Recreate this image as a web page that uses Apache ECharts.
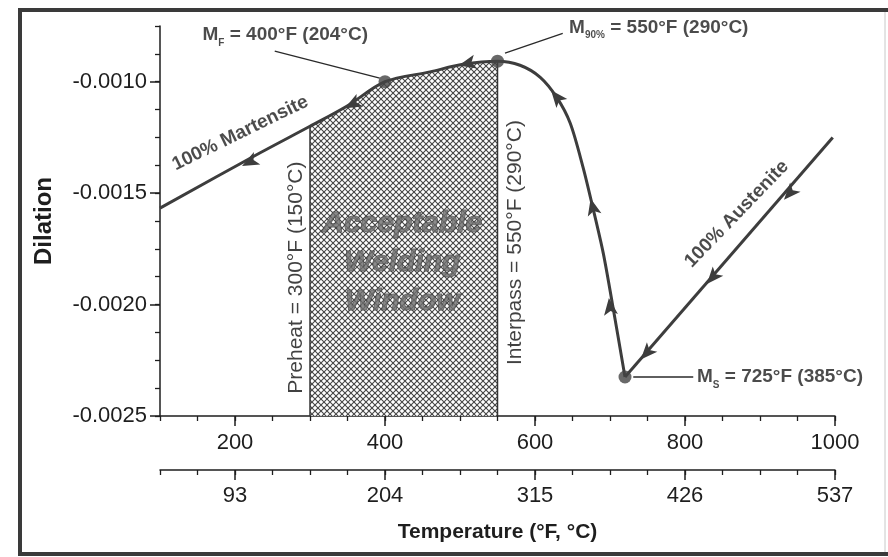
<!DOCTYPE html>
<html><head><meta charset="utf-8">
<script src="https://cdn.jsdelivr.net/npm/echarts@6/dist/echarts.min.js"></script>
<style>html,body{margin:0;padding:0;background:#fff}#c{width:888px;height:557px}</style>
</head><body><div id="c"></div>
<script>
// ---- data ----
const fahrenheitTicks = [200, 400, 600, 800, 1000];
const celsiusLabels = ['93', '204', '315', '426', '537'];
const dilationTicks = [-0.0025, -0.0020, -0.0015, -0.0010];
const austenite = [[997, -0.00125], [720, -0.002325]];
const cooling = [[720, -0.002325], [703, -0.001993], [691, -0.001769], [677, -0.001563], [664, -0.001383],
  [647, -0.001186], [629, -0.00107], [607, -0.00098], [580, -0.000926], [550, -0.000908], [504, -0.000922],
  [460, -0.000956], [400, -0.0010], [349, -0.00111], [300, -0.0012], [233, -0.00132], [100, -0.001567]];
const keyPoints = [[400, -0.0010], [550, -0.000908], [720, -0.002325]];
const weldingWindow = [300, 550];
const arrows = [
  [940, -0.0015, 720, -0.002325], [837, -0.001877, 720, -0.002325], [749, -0.002217, 720, -0.002325],
  [700, -0.002011, 691, -0.001769], [677, -0.001563, 664, -0.001383], [629, -0.00107, 607, -0.00098],
  [510, -0.000918, 460, -0.000956], [357, -0.0011, 300, -0.0012], [220, -0.00136, 100, -0.001567]];
const leaders = [
  [[253, -0.000863], [393, -0.000984]],
  [[560, -0.000872], [637, -0.000783]],
  [[731, -0.002325], [811, -0.002325]]];
const noteMF = [267, -0.000791, 'M{s|F} = 400°F (204°C)'];
const noteM90 = [765, -0.000756, 'M{s|90%} = 550°F (290°C)'];
const noteMS = [816, -0.002325, 'M{s|S} = 725°F (385°C)'];
const noteMart = [207, -0.001231, '100% Martensite'];
const noteAust = [869, -0.001594, '100% Austenite'];
const notePre = [281, -0.001879, 'Preheat = 300°F (150°C)'];
const noteInter = [573, -0.001722, 'Interpass = 550°F (290°C)'];
const noteWindow = [423, -0.001814, 'Acceptable\nWelding\nWindow'];

// ---- styling ----
const FONT = "'Liberation Sans', Arial, Helvetica, sans-serif";
const INK = '#1e1e1e';
const CURVE = '#3d3d3d';

function hatchCanvas() {
  const s = 12, step = 6, c = document.createElement('canvas');
  c.width = s; c.height = s;
  const g = c.getContext('2d');
  g.fillStyle = '#ffffff'; g.fillRect(0, 0, s, s);
  g.strokeStyle = '#454545'; g.lineWidth = 1.1;
  for (let k = -3; k <= 3; k++) {
    const o = k * step;
    g.beginPath(); g.moveTo(o - 2, -2); g.lineTo(o + s + 2, s + 2); g.stroke();
    g.beginPath(); g.moveTo(o + s + 2, -2); g.lineTo(o - 2, s + 2); g.stroke();
  }
  return c;
}

const windowTop = weldingWindow.map(f => cooling.find(p => p[0] === f)[1]);
const windowArea = cooling.filter(p => p[0] >= weldingWindow[0] && p[0] <= weldingWindow[1]);

function note(pt, labelOpts) {
  return {
    type: 'scatter', silent: true, symbolSize: 1, z: 6,
    itemStyle: { color: 'rgba(0,0,0,0)' },
    data: [[pt[0], pt[1]]],
    label: Object.assign({
      show: true, position: 'inside', formatter: pt[2], color: INK,
      fontFamily: FONT, fontSize: 19, fontWeight: 'bold'
    }, labelOpts)
  };
}
const subRich = {
  m: { fontSize: 19, fontWeight: 'bold', fontFamily: FONT, color: INK },
  s: { fontSize: 10, fontWeight: 'bold', fontFamily: FONT, color: INK, verticalAlign: 'bottom', lineHeight: 26 }
};
const wrapM = t => t.replace(/^M/, '{m|M}').replace(/( = .*)$/, '{m|$1}');

function fAxis(opts) {
  return Object.assign({
    type: 'value', min: 100, max: 1000, position: 'bottom', splitLine: { show: false },
    axisLine: { show: true, onZero: false, lineStyle: { color: INK, width: 1.5 } },
    axisTick: { show: true, length: 10, customValues: fahrenheitTicks, lineStyle: { color: INK, width: 1.5 } },
    axisLabel: { show: true, customValues: fahrenheitTicks, fontSize: 22, fontFamily: FONT, color: INK, margin: 16,
      formatter: v => String(v) }
  }, opts);
}
function minorF(offset) {
  return {
    type: 'value', min: 100, max: 1000, interval: 50, position: 'bottom', offset: offset,
    splitLine: { show: false }, axisLine: { show: false },
    axisTick: { show: true, length: 5, lineStyle: { color: INK, width: 1.3 } },
    axisLabel: { show: false }
  };
}

const series = [
  { type: 'line', data: windowArea, smooth: 0.3, symbol: 'none', silent: true,
    lineStyle: { width: 0 }, areaStyle: { origin: 'start', opacity: 1, color: { image: hatchCanvas(), repeat: 'repeat' } }, z: 1 },
  { type: 'line', data: [[weldingWindow[0], -0.0025], [weldingWindow[0], windowTop[0]]], symbol: 'none', silent: true,
    lineStyle: { color: '#333', width: 1.5 }, z: 2 },
  { type: 'line', data: [[weldingWindow[1], -0.0025], [weldingWindow[1], windowTop[1]]], symbol: 'none', silent: true,
    lineStyle: { color: '#333', width: 1.5 }, z: 2 },
  { type: 'line', data: austenite, symbol: 'none', silent: true, lineStyle: { color: CURVE, width: 3 }, z: 3 },
  { type: 'line', data: cooling, smooth: 0.3, symbol: 'none', silent: true,
    lineStyle: { color: CURVE, width: 3 }, z: 3 },
  { type: 'scatter', data: keyPoints, symbolSize: 13, silent: true, itemStyle: { color: '#444' }, z: 5 },
  { type: 'custom', silent: true, z: 5, data: arrows, encode: { x: [0, 2], y: [1, 3] },
    renderItem: function (params, api) {
      const p = api.coord([api.value(0), api.value(1)]);
      const q = api.coord([api.value(2), api.value(3)]);
      const a = Math.atan2(q[1] - p[1], q[0] - p[0]);
      const ca = Math.cos(a), sa = Math.sin(a);
      const pts = [[9, 0], [-8, -7], [-4, 0], [-8, 7]].map(v => [p[0] + v[0] * ca - v[1] * sa, p[1] + v[0] * sa + v[1] * ca]);
      return { type: 'polygon', shape: { points: pts }, style: { fill: CURVE } };
    } }
];
leaders.forEach(l => series.push({ type: 'line', data: l, symbol: 'none', silent: true, lineStyle: { color: '#2a2a2a', width: 1.3 }, z: 4 }));
series.push(note(noteMF, { formatter: wrapM(noteMF[2]), rich: subRich }));
series.push(note(noteM90, { formatter: wrapM(noteM90[2]), rich: subRich }));
series.push(note(noteMS, { align: 'left', formatter: wrapM(noteMS[2]), rich: subRich }));
series.push(note(noteMart, { rotate: 26, fontSize: 19 }));
series.push(note(noteAust, { rotate: 46, fontSize: 19 }));
series.push(note(notePre, { rotate: 90, fontSize: 21, fontWeight: 'normal', color: '#111' }));
series.push(note(noteInter, { rotate: 90, fontSize: 21, fontWeight: 'normal', color: '#111' }));
series.push(note(noteWindow, { fontSize: 30, fontStyle: 'italic', fontWeight: 'bold', lineHeight: 39,
  color: '#6e6e6e', textBorderColor: '#3c3c3c', textBorderWidth: 1 }));

const chart = echarts.init(document.getElementById('c'), null, { renderer: 'canvas' });
chart.setOption({
  animation: false,
  backgroundColor: '#ffffff',
  grid: { left: 160, right: 53, top: 26, bottom: 141 },
  xAxis: [
    fAxis({}),
    minorF(0),
    fAxis({ offset: 54, name: 'Temperature (°F, °C)', nameLocation: 'middle', nameGap: 52,
      nameTextStyle: { fontSize: 21, fontWeight: 'bold', fontFamily: FONT, color: INK },
      axisLabel: { show: true, customValues: fahrenheitTicks, fontSize: 22, fontFamily: FONT, color: INK, margin: 15,
        formatter: v => celsiusLabels[fahrenheitTicks.indexOf(v)] } }),
    minorF(54)
  ],
  yAxis: [
    { type: 'value', min: -0.0025, max: -0.00075, position: 'left', splitLine: { show: false },
      name: 'Dilation', nameLocation: 'middle', nameGap: 104,
      nameTextStyle: { fontSize: 24, fontWeight: 'bold', fontFamily: FONT, color: INK },
      axisLine: { show: true, onZero: false, lineStyle: { color: INK, width: 1.5 } },
      axisTick: { show: true, length: 10, customValues: dilationTicks, lineStyle: { color: INK, width: 1.5 } },
      axisLabel: { show: true, customValues: dilationTicks, fontSize: 22, fontFamily: FONT, color: INK, margin: 13,
        formatter: v => v.toFixed(4) } },
    { type: 'value', min: -0.0025, max: -0.00075, interval: 0.000125, position: 'left', splitLine: { show: false },
      axisLine: { show: false }, axisTick: { show: true, length: 5, lineStyle: { color: INK, width: 1.3 } },
      axisLabel: { show: false } }
  ],
  graphic: [
    { type: 'line', shape: { x1: 18, y1: 10, x2: 888, y2: 10 }, style: { stroke: '#3a3a3a', lineWidth: 4 } },
    { type: 'line', shape: { x1: 20, y1: 8, x2: 20, y2: 556 }, style: { stroke: '#3a3a3a', lineWidth: 4 } },
    { type: 'line', shape: { x1: 18, y1: 554, x2: 888, y2: 554 }, style: { stroke: '#3a3a3a', lineWidth: 4 } },
    { type: 'line', shape: { x1: 885, y1: 12, x2: 885, y2: 552 }, style: { stroke: '#c8c8c8', lineWidth: 1 } }
  ],
  series: series
});
</script></body></html>
